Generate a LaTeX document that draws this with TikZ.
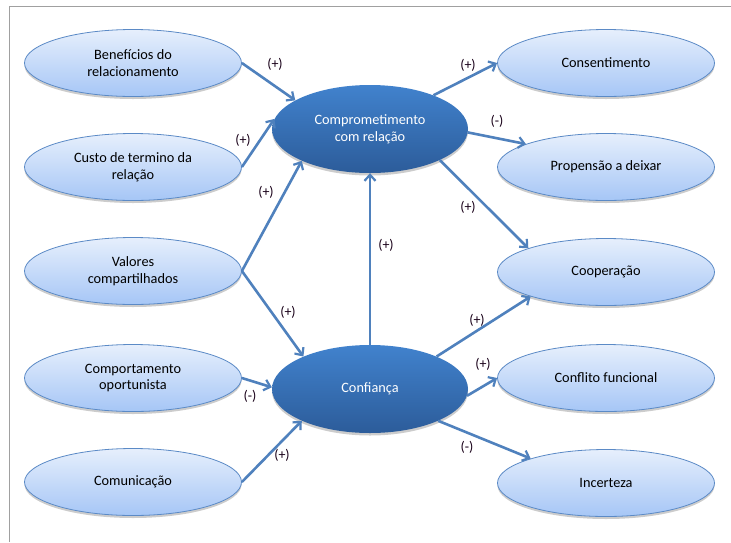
\documentclass[tikz,border=0pt]{standalone}
\usepackage{fontspec}
\setmainfont{Carlito}
\usetikzlibrary{shapes.geometric,arrows.meta,shadows}
\definecolor{linkblue}{HTML}{4F81BD}
\definecolor{darktop}{HTML}{4182CD}
\definecolor{darkbot}{HTML}{2C5C9A}
\definecolor{lighttop}{HTML}{E6EFFC}
\definecolor{lightbot}{HTML}{A6C6F6}
\definecolor{edgeblue}{HTML}{5B8AC6}
\definecolor{framegray}{HTML}{A0A0A0}
\tikzset{
  factor/.style={ellipse, minimum width=217pt, minimum height=67pt, inner sep=0pt,
    draw=edgeblue, line width=0.8pt, top color=lighttop, bottom color=lightbot,
    align=center, font=\fontsize{14.3}{16.8}\selectfont, text=black,
    drop shadow={shadow xshift=0pt, shadow yshift=-2.5pt, opacity=0.2, fill=black}},
  core/.style={ellipse, minimum width=196pt, minimum height=88pt, inner sep=0pt,
    draw=none, top color=darktop, bottom color=darkbot,
    align=center, font=\fontsize{14.3}{16.8}\selectfont, text=white,
    drop shadow={shadow xshift=0pt, shadow yshift=-2.5pt, opacity=0.2, fill=black}},
  link/.style={draw=linkblue, line width=2.6pt,
    -{Straight Barb[length=6pt, width=11pt, line width=2.2pt]}},
  sign/.style={font=\fontsize{14}{15}\selectfont, text=black!80!violet, inner sep=0pt}
}
\begin{document}
\begin{tikzpicture}[x=1pt, y=-1pt]
  \useasboundingbox (0,0) rectangle (731,542);
  \fill[white] (0,0) rectangle (731,542);
  % partial frame
  \draw[framegray, line width=0.8pt] (9,542) -- (9,6) -- (731,6);

  % antecedents
  \node[factor] (ben) at (133,63)  {Benefícios do\\relacionamento};
  \node[factor] (cus) at (133,167) {Custo de termino da\\relação};
  \node[factor] (val) at (133,271) {Valores\\compartilhados};
  \node[factor] (opo) at (133,378) {Comportamento\\oportunista};
  \node[factor] (com) at (133,482) {Comunicação};

  % mediators
  \node[core] (cmp) at (370,129) {Comprometimento\\com relação};
  \node[core] (cnf) at (370,389) {Confiança};

  % outcomes
  \node[factor] (cst) at (606,63)  {Consentimento};
  \node[factor] (pro) at (606,167) {Propensão a deixar};
  \node[factor] (coo) at (606,272) {Cooperação};
  \node[factor] (cfl) at (606,378) {Conflito funcional};
  \node[factor] (inc) at (606,483) {Incerteza};

  % relationships
  \draw[link] (ben.east) -- (cmp.159);
  \draw[link] (cus.east) -- (cmp.174);
  \draw[link] (val.east) -- (cmp.205);
  \draw[link] (val.east) -- (cnf.154);
  \draw[link] (opo.east) -- (cnf.179);
  \draw[link] (com.east) -- (cnf.205);
  \draw[link] (cnf.north) -- (cmp.south);
  \draw[link] (cmp.28)  -- (cst.west);
  \draw[link] (cmp.358) -- (pro.164);
  \draw[link] (cmp.336) -- (coo.163);
  \draw[link] (cnf.26)  -- (coo.198);
  \draw[link] (cnf.356) -- (cfl.west);
  \draw[link] (cnf.335) -- (inc.162);

  % signs
  \node[sign] (s1)  at (275,64)  {(+)};
  \node[sign] (s2)  at (243,140) {(+)};
  \node[sign] (s3)  at (266,192) {(+)};
  \node[sign] (s4)  at (288,312) {(+)};
  \node[sign] (s5)  at (386,245) {(+)};
  \node[sign] (s6)  at (250,396) {(-)};
  \node[sign] (s7)  at (282,455) {(+)};
  \node[sign] (s8)  at (468,65)  {(+)};
  \node[sign] (s9)  at (497,121) {(-)};
  \node[sign] (s10) at (468,207) {(+)};
  \node[sign] (s11) at (477,320) {(+)};
  \node[sign] (s12) at (483,364) {(+)};
  \node[sign] (s13) at (467,447) {(-)};
\end{tikzpicture}
\end{document}
